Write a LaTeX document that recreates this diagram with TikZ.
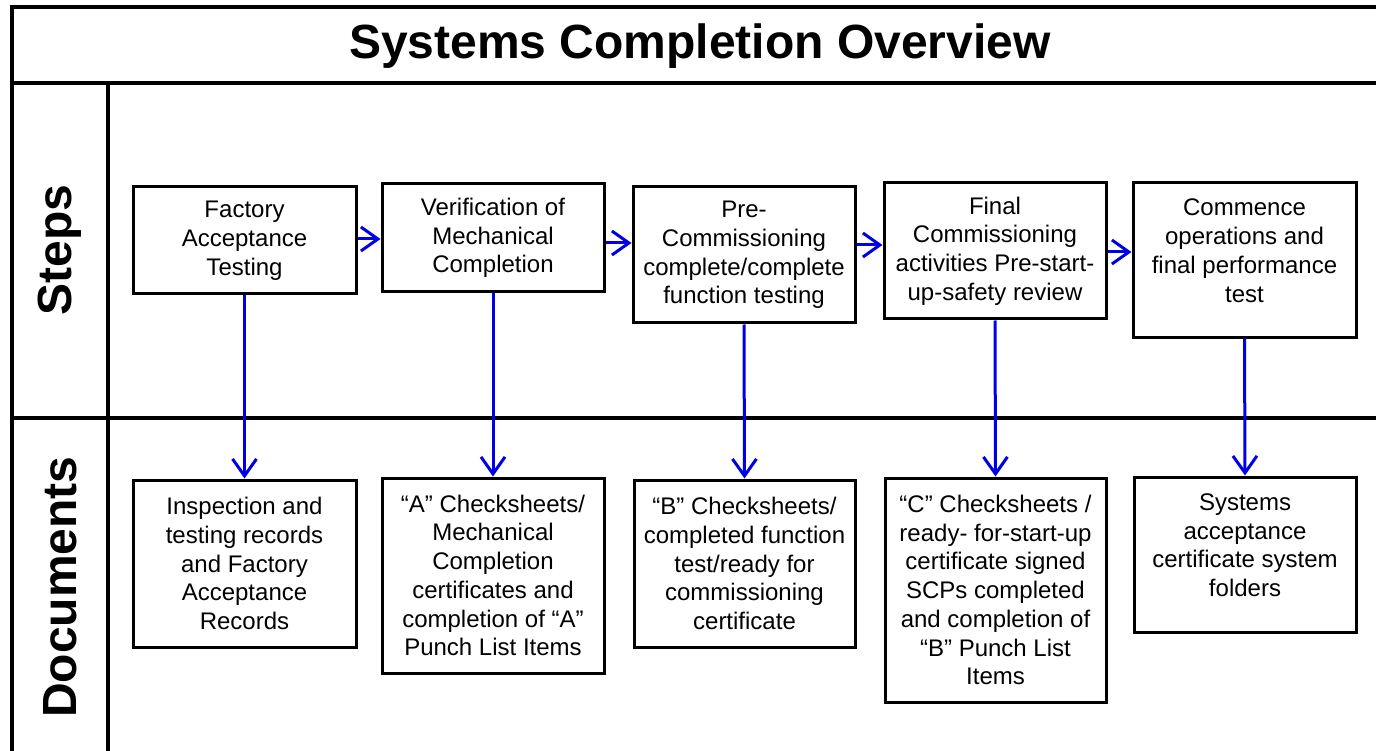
\documentclass[tikz,border=0pt]{standalone}
\usepackage{fontspec}
\setmainfont{Liberation Sans}
\usetikzlibrary{arrows.meta}
\definecolor{arrblue}{RGB}{0,0,230}
\begin{document}
\begin{tikzpicture}[x=1pt,y=-1pt,
  frame/.style={line width=4pt,black},
  stepbox/.style={draw,line width=3pt,align=center,inner sep=0pt,
    font=\fontsize{24}{28.75}\selectfont},
  arr/.style={draw=arrblue,line width=3pt,
    -{Straight Barb[length=17pt,width=24pt,line width=3pt]}},
  hdr/.style={font=\fontsize{48}{56}\selectfont\bfseries}]
\useasboundingbox (0,0) rectangle (1376,751);
% frame
\draw[frame] (12,760) -- (12,7) -- (1390,7);
\draw[frame] (12,83) -- (1390,83);
\draw[frame] (108,83) -- (108,760);
\draw[frame] (12,418) -- (1390,418);
% headers
\node[hdr] (title) at (700,46) {Systems Completion Overview};
\node[hdr,rotate=90] (steps) at (60,250) {Steps};
\node[hdr,rotate=90] (docs) at (60,587) {Documents};
% step boxes
\node[stepbox,minimum width=223pt,minimum height=107pt] (s1) at (244.5,240.5) {Factory\\Acceptance\\Testing};
\node[stepbox,minimum width=222pt,minimum height=108pt] (s2) at (493,238) {Verification of\\Mechanical\\Completion};
\node[stepbox,minimum width=222pt,minimum height=136pt] (s3) at (744,255) {Pre-\\Commissioning\\complete/complete\\function testing};
\node[stepbox,minimum width=222pt,minimum height=136pt] (s4) at (995,251) {Final\\Commissioning\\activities Pre-start-\\up-safety review};
\node[stepbox,minimum width=223pt,minimum height=154pt] (s5) at (1244.5,260) {Commence\\operations and\\final performance\\test\\[-10pt]\mbox{}};
% document boxes
\node[stepbox,minimum width=223pt,minimum height=167pt] (d1) at (244.5,563.5) {Inspection and\\testing records\\and Factory\\Acceptance\\Records};
\node[stepbox,minimum width=222pt,minimum height=195pt] (d2) at (493,575.5) {“A” Checksheets/\\Mechanical\\Completion\\certificates and\\completion of “A”\\Punch List Items};
\node[stepbox,minimum width=221pt,minimum height=167pt] (d3) at (744.5,563.5) {“B” Checksheets/\\completed function\\test/ready for\\commissioning\\certificate};
\node[stepbox,minimum width=221pt,minimum height=224pt] (d4) at (995.5,590) {“C” Checksheets /\\ready- for-start-up\\certificate signed\\SCPs completed\\and completion of\\“B” Punch List\\Items};
\node[stepbox,minimum width=222pt,minimum height=155pt] (d5) at (1245,554.5) {Systems\\acceptance\\certificate system\\folders\\[-10pt]\mbox{}};
% horizontal arrows
\draw[arr] (s1.east |- 0,239) -- (s2.west |- 0,239);
\draw[arr] (s2.east |- 0,243) -- (s3.west |- 0,243);
\draw[arr] (s3.east |- 0,245) -- (s4.west |- 0,245);
\draw[arr] (s4.east |- 0,252) -- (s5.west |- 0,252);
% vertical arrows
\draw[arr] (s1.south) -- (d1.north);
\draw[arr] (s2.south) -- (d2.north);
\draw[arr] (s3.south) -- (d3.north);
\draw[arr] (s4.south) -- (d4.north);
\draw[arr] (s5.south) -- (d5.north);
\end{tikzpicture}
\end{document}
